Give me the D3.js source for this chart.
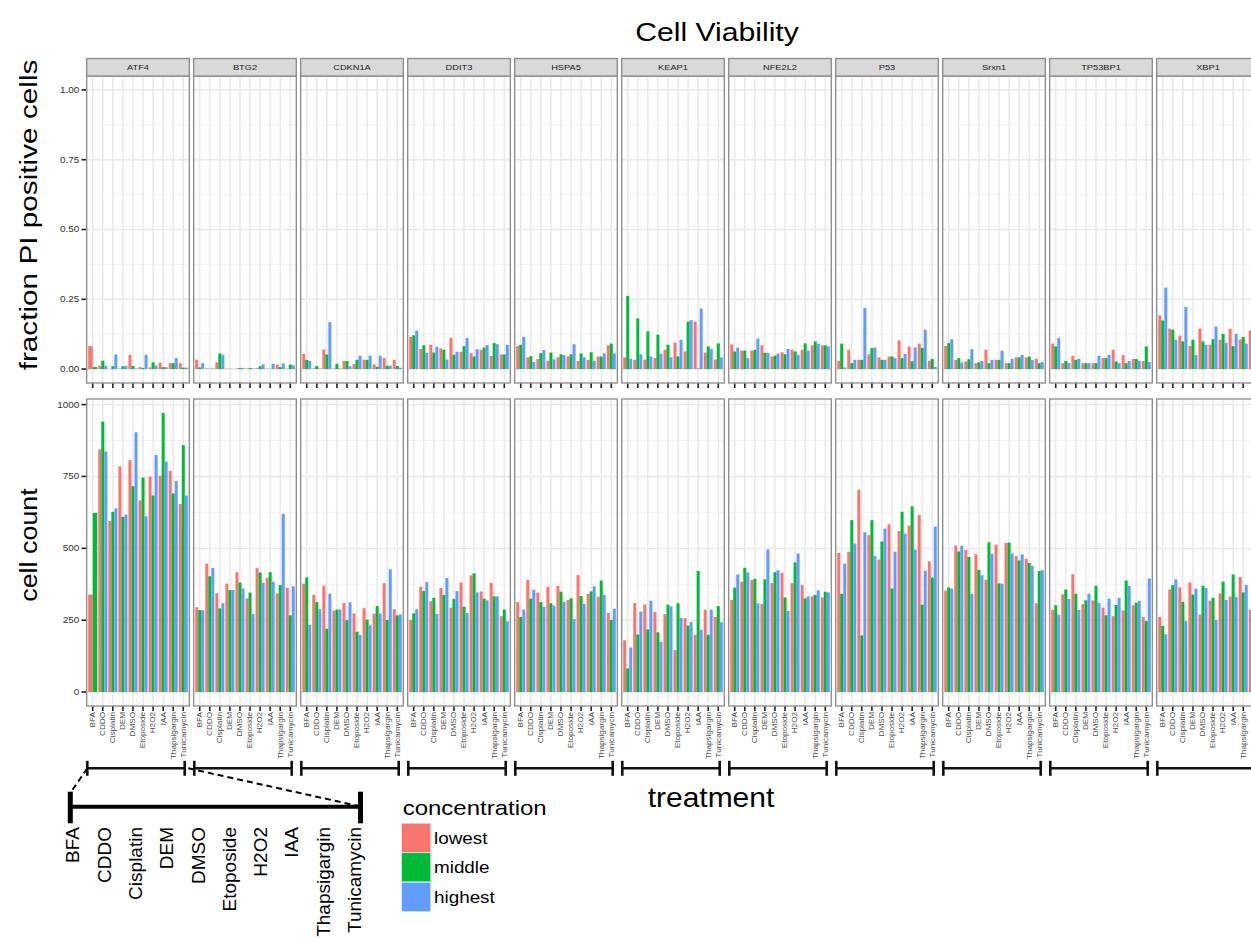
<!DOCTYPE html>
<html>
<head>
<meta charset="utf-8">
<script src="https://cdn.jsdelivr.net/npm/d3@7"></script>
<style>
  body { margin: 0; background: #fff; }
  svg { display: block; }
  text { font-family: "Liberation Sans", Arial, Helvetica, sans-serif; }
</style>
</head>
<body>
<svg id="chart" width="1251" height="938"></svg>
<script>
// ---- data -------------------------------------------------------------
const reporters = ["ATF4", "BTG2", "CDKN1A", "DDIT3", "HSPA5", "KEAP1", "NFE2L2", "P53", "Srxn1", "TP53BP1", "XBP1"];
const treatments = ["BFA", "CDDO", "Cisplatin", "DEM", "DMSO", "Etoposide", "H2O2", "IAA", "Thapsigargin", "Tunicamycin"];
const concentrations = ["lowest", "middle", "highest"];
const concColors = ["#F8766D", "#00BA38", "#619CFF"];
const fractionTicks = [0, 0.25, 0.5, 0.75, 1];
const fractionTickLabels = ["0.00", "0.25", "0.50", "0.75", "1.00"];
const countTicks = [0, 250, 500, 750, 1000];
const countTickLabels = ["0", "250", "500", "750", "1000"];

// fraction of PI positive cells: one row per reporter, one value per treatment
const piLowest = [
  [0.082, 0.012, 0.000, 0.002, 0.051, 0.007, 0.006, 0.023, 0.021, 0.021],
  [0.033, 0.002, 0.024, 0.001, 0.002, 0.002, 0.003, 0.001, 0.016, 0.001],
  [0.054, 0.002, 0.070, 0.002, 0.029, 0.018, 0.033, 0.017, 0.040, 0.033],
  [0.115, 0.072, 0.087, 0.074, 0.112, 0.062, 0.057, 0.069, 0.047, 0.052],
  [0.082, 0.042, 0.036, 0.030, 0.042, 0.045, 0.029, 0.033, 0.045, 0.085],
  [0.042, 0.033, 0.034, 0.039, 0.069, 0.095, 0.063, 0.170, 0.059, 0.035],
  [0.088, 0.066, 0.066, 0.085, 0.045, 0.060, 0.069, 0.069, 0.085, 0.085],
  [0.030, 0.069, 0.033, 0.053, 0.042, 0.045, 0.103, 0.081, 0.091, 0.030],
  [0.083, 0.033, 0.027, 0.021, 0.069, 0.033, 0.021, 0.042, 0.042, 0.037],
  [0.091, 0.021, 0.047, 0.021, 0.021, 0.039, 0.069, 0.050, 0.036, 0.029],
  [0.192, 0.145, 0.120, 0.083, 0.145, 0.087, 0.105, 0.144, 0.106, 0.138]
];
const piMiddle = [
  [0.007, 0.030, 0.010, 0.010, 0.011, 0.004, 0.024, 0.007, 0.021, 0.005],
  [0.006, 0.001, 0.056, 0.001, 0.004, 0.004, 0.010, 0.001, 0.007, 0.016],
  [0.033, 0.011, 0.052, 0.019, 0.029, 0.033, 0.033, 0.008, 0.012, 0.011],
  [0.121, 0.085, 0.059, 0.069, 0.051, 0.082, 0.045, 0.077, 0.093, 0.052],
  [0.087, 0.046, 0.057, 0.059, 0.053, 0.053, 0.056, 0.060, 0.045, 0.091],
  [0.262, 0.181, 0.135, 0.123, 0.087, 0.045, 0.170, 0.002, 0.081, 0.092],
  [0.063, 0.066, 0.069, 0.058, 0.048, 0.053, 0.063, 0.092, 0.099, 0.085],
  [0.091, 0.021, 0.033, 0.075, 0.033, 0.045, 0.039, 0.028, 0.076, 0.036],
  [0.093, 0.039, 0.035, 0.024, 0.021, 0.033, 0.021, 0.042, 0.045, 0.021],
  [0.081, 0.029, 0.033, 0.021, 0.021, 0.039, 0.027, 0.021, 0.036, 0.081],
  [0.174, 0.141, 0.099, 0.105, 0.099, 0.107, 0.126, 0.082, 0.115, 0.120]
];
const piHighest = [
  [null, 0.012, 0.052, 0.012, 0.002, 0.051, 0.012, 0.007, 0.039, 0.005],
  [0.021, 0.002, 0.051, 0.000, 0.004, 0.002, 0.017, 0.018, 0.020, 0.013],
  [0.029, 0.002, 0.168, 0.002, 0.010, 0.048, 0.048, 0.048, 0.012, 0.005],
  [0.138, 0.058, 0.080, 0.034, 0.062, 0.111, 0.071, 0.086, 0.089, 0.087],
  [0.115, 0.025, 0.068, 0.035, 0.050, 0.089, 0.042, 0.029, 0.056, 0.056],
  [0.037, 0.053, 0.045, 0.055, 0.042, 0.105, 0.175, 0.217, 0.072, 0.042],
  [0.077, 0.039, 0.109, 0.058, 0.055, 0.072, 0.051, 0.066, 0.091, 0.081],
  [0.006, 0.033, 0.219, 0.077, 0.033, 0.039, 0.054, 0.077, 0.141, 0.008],
  [0.107, 0.023, 0.071, 0.029, 0.033, 0.066, 0.037, 0.051, 0.033, 0.025],
  [0.111, 0.021, 0.036, 0.021, 0.047, 0.051, 0.021, 0.029, 0.029, 0.025],
  [0.292, 0.105, 0.222, 0.050, 0.087, 0.152, 0.094, 0.126, 0.091, 0.110]
];

// cell counts: one row per reporter, one value per treatment
const countLowest = [
  [339, 844, 595, 785, 807, 667, 749, 753, 770, 654],
  [295, 447, 344, 377, 417, 326, 431, 398, 343, 363],
  [377, 338, 370, 283, 310, 274, 292, 273, 379, 288],
  [251, 366, 316, 362, 294, 381, 406, 350, 380, 264],
  [313, 390, 346, 366, 369, 320, 407, 341, 332, 275],
  [180, 310, 305, 279, 271, 146, 257, 199, 287, 261],
  [321, 384, 390, 306, 379, 415, 379, 373, 333, 329],
  [484, 488, 704, 546, 461, 584, 560, 579, 616, 455],
  [353, 510, 494, 479, 391, 513, 519, 473, 464, 309],
  [286, 340, 410, 306, 319, 294, 264, 284, 302, 261],
  [261, 357, 364, 381, 269, 318, 343, 332, 400, 286]
];
const countMiddle = [
  [623, 941, 627, 609, 716, 746, 684, 971, 691, 859],
  [285, 403, 291, 355, 381, 346, 416, 417, 372, 267],
  [399, 313, 220, 287, 250, 210, 252, 299, 251, 267],
  [274, 351, 328, 338, 324, 297, 413, 325, 333, 287],
  [261, 325, 313, 309, 349, 326, 334, 350, 388, 251],
  [82, 200, 218, 208, 304, 309, 231, 421, 199, 299],
  [363, 432, 394, 392, 417, 329, 451, 326, 338, 349],
  [342, 598, 197, 598, 524, 360, 627, 646, 304, 398],
  [364, 489, 470, 425, 521, 378, 520, 458, 449, 421],
  [302, 357, 342, 319, 370, 267, 303, 388, 311, 247],
  [230, 372, 314, 339, 370, 328, 384, 409, 347, 330]
];
const countHighest = [
  [null, 837, 639, 617, 904, 612, 825, 802, 734, 684],
  [285, 432, 309, 355, 360, 272, 380, 384, 620, 368],
  [234, 288, 342, 287, 312, 199, 232, 273, 427, 270],
  [288, 383, 272, 397, 351, 275, 347, 319, 333, 246],
  [287, 356, 297, 301, 313, 254, 306, 368, 338, 290],
  [155, 280, 318, 175, 298, 258, 244, 217, 287, 243],
  [409, 416, 309, 496, 424, 282, 482, 333, 354, 347],
  [447, 517, 556, 473, 569, 488, 551, 496, 422, 576],
  [360, 509, 342, 406, 481, 377, 482, 479, 439, 424],
  [269, 324, 286, 342, 310, 325, 328, 369, 318, 395],
  [201, 392, 247, 360, 362, 251, 320, 331, 373, 340]
];

// ---- layout -----------------------------------------------------------
const W = 1251, H = 938;
const panelX0 = 86.7, panelW = 102.6, panelStep = 107.0;
const stripTop = 58.5;
const rows = [
  { key: "pi", top: 76, bottom: 383, series: [piLowest, piMiddle, piHighest],
    ticks: fractionTicks, tickLabels: fractionTickLabels,
    title: "fraction PI positive cells", titleY: 215, titleSx: 1.24 },
  { key: "count", top: 399, bottom: 706, series: [countLowest, countMiddle, countHighest],
    ticks: countTicks, tickLabels: countTickLabels,
    title: "cell count", titleY: 545, titleSx: 1.12 }
];

// y scales with ggplot-style 5% expansion
const piMax = 1;
rows[0].y = d3.scaleLinear().domain([-0.05 * piMax, piMax * 1.05]).range([rows[0].bottom, rows[0].top]);
const countMax = d3.max(rows[1].series.flat(2).filter(v => v != null));
rows[1].y = d3.scaleLinear().domain([-0.05 * countMax, countMax * 1.05]).range([rows[1].bottom, rows[1].top]);
rows[0].minor = [0.125, 0.375, 0.625, 0.875];
rows[1].minor = [125, 375, 625, 875];

const svg = d3.select("#chart");
svg.append("rect").attr("width", W).attr("height", H).attr("fill", "#fff");

// text with a horizontal stretch along the text direction
function label(g, x, y, str, o = {}) {
  const t = g.append("text")
    .attr("transform", `translate(${x},${y}) rotate(${o.rotate || 0}) scale(${o.sx || 1},1)`)
    .attr("text-anchor", o.anchor || "start")
    .attr("font-size", o.size || 10)
    .attr("fill", o.fill || "#000")
    .text(str);
  if (o.dy) t.attr("dy", o.dy);
  return t;
}

const panelLeft = j => panelX0 + j * panelStep;

reporters.forEach((rep, j) => {
  const left = panelLeft(j);
  const x = d3.scaleLinear().domain([0.4, treatments.length + 0.6]).range([left, left + panelW]);

  rows.forEach(row => {
    const g = svg.append("g");
    const y = row.y;
    // panel background
    g.append("rect").attr("x", left).attr("y", row.top).attr("width", panelW)
      .attr("height", row.bottom - row.top).attr("fill", "#fff");
    // minor grid
    g.selectAll(null).data(row.minor).join("line")
      .attr("x1", left).attr("x2", left + panelW)
      .attr("y1", d => y(d)).attr("y2", d => y(d))
      .attr("stroke", "#F2F2F2").attr("stroke-width", 0.9);
    // major grid
    g.selectAll(null).data(row.ticks).join("line")
      .attr("x1", left).attr("x2", left + panelW)
      .attr("y1", d => y(d)).attr("y2", d => y(d))
      .attr("stroke", "#E8E8E8").attr("stroke-width", 1.4);
    g.selectAll(null).data(treatments).join("line")
      .attr("x1", (d, i) => x(i + 1)).attr("x2", (d, i) => x(i + 1))
      .attr("y1", row.top).attr("y2", row.bottom)
      .attr("stroke", "#E8E8E8").attr("stroke-width", 1.4);

    // dodged bars
    const bars = [];
    treatments.forEach((t, i) => {
      const present = concentrations.map((c, k) => ({ k, v: row.series[k][j][i] })).filter(d => d.v != null);
      const w = 0.9 / present.length;
      present.forEach((d, n) => {
        const x0 = i + 1 - 0.45 + n * w;
        bars.push({ x0, x1: x0 + w, v: d.v, k: d.k });
      });
    });
    g.selectAll(null).data(bars).join("rect")
      .attr("x", d => x(d.x0)).attr("width", d => x(d.x1) - x(d.x0))
      .attr("y", d => Math.min(y(d.v), y(0))).attr("height", d => Math.abs(y(0) - y(d.v)))
      .attr("fill", d => concColors[d.k]);

    // panel border
    g.append("rect").attr("x", left).attr("y", row.top).attr("width", panelW)
      .attr("height", row.bottom - row.top).attr("fill", "none")
      .attr("stroke", "#8A8A8A").attr("stroke-width", 1.3);

    // x ticks under the panel
    g.selectAll(null).data(treatments).join("line")
      .attr("x1", (d, i) => x(i + 1)).attr("x2", (d, i) => x(i + 1))
      .attr("y1", row.bottom + 0.6).attr("y2", row.bottom + 5)
      .attr("stroke", "#222").attr("stroke-width", 1.6);
  });

  // strip
  svg.append("rect").attr("x", left).attr("y", stripTop).attr("width", panelW)
    .attr("height", rows[0].top - stripTop).attr("fill", "#D9D9D9")
    .attr("stroke", "#8A8A8A").attr("stroke-width", 1.3);
  label(svg, left + panelW / 2, (stripTop + rows[0].top) / 2, rep,
    { anchor: "middle", size: 8, sx: 1.16, dy: "0.35em", fill: "#1A1A1A" });

  // rotated treatment labels under the lower panel (those past the right edge are not drawn)
  treatments.forEach((t, i) => {
    if (x(i + 1) > W - 3) return;
    label(svg, x(i + 1), rows[1].bottom + 6, t,
      { anchor: "end", size: 6.8, sx: 1.2, rotate: -90, dy: "0.35em", fill: "#4D4D4D" });
  });

  // bracket spanning the treatments of this reporter
  const bl = left + 0.6, br = left + 98;
  const by = 768.3;
  svg.append("line").attr("x1", bl).attr("x2", br).attr("y1", by).attr("y2", by)
    .attr("stroke", "#111").attr("stroke-width", 2.4);
  [bl, br].forEach(bx => svg.append("line").attr("x1", bx).attr("x2", bx)
    .attr("y1", by - 7.5).attr("y2", by + 7.5).attr("stroke", "#111").attr("stroke-width", 2.6));
});

// y axes
rows.forEach(row => {
  const left = panelLeft(0);
  row.ticks.forEach((t, i) => {
    svg.append("line").attr("x1", left - 5.2).attr("x2", left - 0.7)
      .attr("y1", row.y(t)).attr("y2", row.y(t))
      .attr("stroke", "#222").attr("stroke-width", 1.6);
    label(svg, left - 7.5, row.y(t), row.tickLabels[i],
      { anchor: "end", size: 8.4, sx: 1.18, dy: "0.35em", fill: "#333" });
  });
  label(svg, 37, row.titleY, row.title, { anchor: "middle", size: 24, sx: row.titleSx, rotate: -90 });
});

// titles
label(svg, 717, 41, "Cell Viability", { anchor: "middle", size: 26, sx: 1.16 });
label(svg, 711, 806.7, "treatment", { anchor: "middle", size: 27, sx: 1.11 });

// enlarged treatment axis for one reporter panel
const zoomAxis = svg.append("g");
const bigLeft = 70.3, bigRight = 360.5, bigY = 806.7;
zoomAxis.append("line").attr("x1", bigLeft).attr("x2", bigRight).attr("y1", bigY).attr("y2", bigY)
  .attr("stroke", "#000").attr("stroke-width", 4);
[bigLeft, bigRight].forEach(bx => zoomAxis.append("line").attr("x1", bx).attr("x2", bx)
  .attr("y1", 791.7).attr("y2", 823.3).attr("stroke", "#000").attr("stroke-width", 5));
zoomAxis.append("line").attr("x1", panelLeft(0) + 0.6).attr("y1", 768.3).attr("x2", bigLeft).attr("y2", 793)
  .attr("stroke", "#000").attr("stroke-width", 2).attr("stroke-dasharray", "6,4");
zoomAxis.append("line").attr("x1", 188.3).attr("y1", 768.3).attr("x2", bigRight - 2).attr("y2", 806)
  .attr("stroke", "#000").attr("stroke-width", 2).attr("stroke-dasharray", "6,4");
const bigX = d3.scaleLinear().domain([1, treatments.length]).range([72.7, 354.3]);
treatments.forEach((t, i) => {
  label(zoomAxis, bigX(i + 1), 827, t, { anchor: "end", size: 19, rotate: -90, dy: "0.35em" });
});

// legend
const legend = svg.append("g");
label(legend, 402.7, 815, "concentration", { size: 20, sx: 1.2 });
concentrations.forEach((c, k) => {
  const ky = 823.3 + k * 29.5;
  legend.append("rect").attr("x", 401.7).attr("y", ky).attr("width", 29).attr("height", 29)
    .attr("fill", concColors[k]).attr("stroke", "#E0E0E0").attr("stroke-width", 0.6);
  label(legend, 434, ky + 14.5, c, { size: 17, sx: 1.11, dy: "0.35em" });
});
</script>
</body>
</html>
